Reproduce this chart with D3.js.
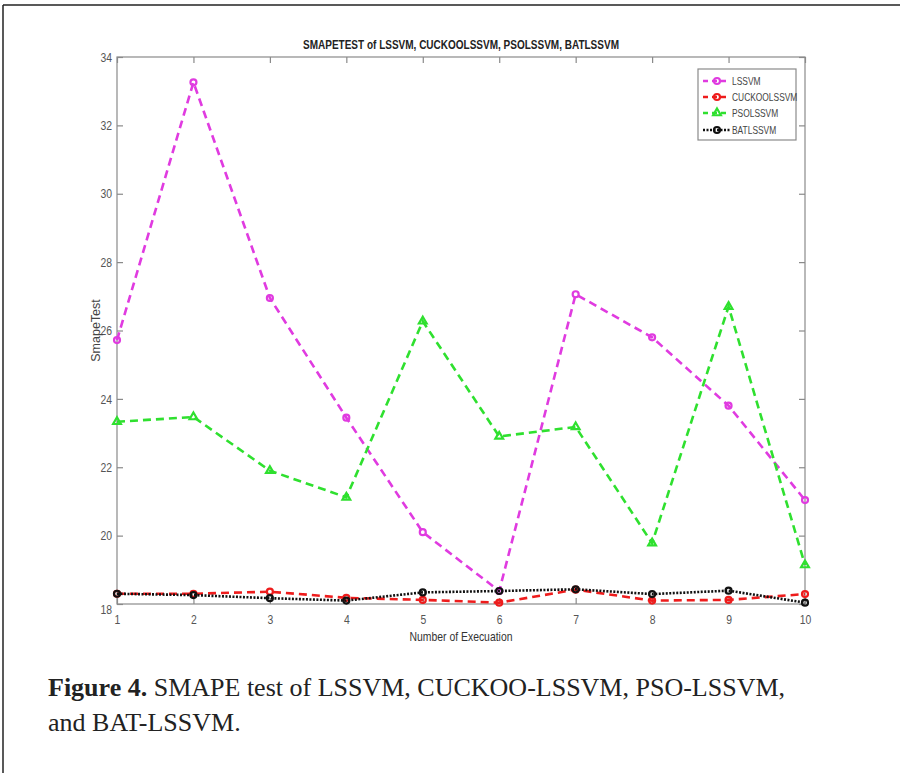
<!DOCTYPE html>
<html lang="en">
<head>
  <meta charset="utf-8">
  <title>SMAPE test</title>
  <script src="https://d3js.org/d3.v7.min.js"></script>
  <style>
    body { margin: 0; background: #fff; }
    svg { display: block; }
    .narrow { font-family: "Liberation Sans Narrow", "Arial Narrow", "Liberation Sans", Arial, sans-serif; }
  </style>
</head>
<body>
<svg width="905" height="773"></svg>
<script>

// values
var runs = [1, 2, 3, 4, 5, 6, 7, 8, 9, 10];
var lssvm = [25.72, 33.26, 26.95, 23.45, 20.1, 18.38, 27.06, 25.8, 23.8, 21.04];
var cuckoo = [18.3, 18.3, 18.36, 18.18, 18.12, 18.04, 18.42, 18.1, 18.12, 18.29];
var pso = [23.33, 23.47, 21.9, 21.12, 26.27, 22.9, 23.18, 19.78, 26.7, 19.14];
var bat = [18.3, 18.26, 18.17, 18.1, 18.34, 18.38, 18.43, 18.29, 18.39, 18.04];
var seriesNames = ["LSSVM", "CUCKOOLSSVM", "PSOLSSVM", "BATLSSVM"];
var yTicks = [18, 20, 22, 24, 26, 28, 30, 32, 34];

var svg = d3.select("svg");

// page frame (top and left edge of the figure box)
svg.append("line").attr("x1", 3).attr("y1", 5).attr("x2", 900).attr("y2", 5)
    .attr("stroke", "#222").attr("stroke-width", 1.5);
svg.append("line").attr("x1", 3).attr("y1", 5).attr("x2", 3).attr("y2", 773)
    .attr("stroke", "#222").attr("stroke-width", 1.5);

var plotL = 117, plotR = 805, plotT = 57, plotB = 604;

var x = d3.scaleLinear().domain([1, 10]).range([plotL, plotR]);
var y = d3.scaleLinear().domain([18, 34]).range([plotB, plotT]);

var axisColor = "#8a8a8a", labelColor = "#555";

// box
svg.append("rect").attr("x", plotL).attr("y", plotT)
    .attr("width", plotR - plotL).attr("height", plotB - plotT)
    .attr("fill", "none").attr("stroke", axisColor).attr("stroke-width", 1.2);

// inward ticks on all four sides
var tl = 6;
var xb = svg.append("g").attr("transform", "translate(0," + plotB + ")")
    .call(d3.axisBottom(x).tickValues(runs).tickSizeInner(-tl).tickSizeOuter(0).tickPadding(11).tickFormat(d3.format("d")));
var xt = svg.append("g").attr("transform", "translate(0," + plotT + ")")
    .call(d3.axisTop(x).tickValues(runs).tickSizeInner(-tl).tickSizeOuter(0).tickFormat(""));
var yl = svg.append("g").attr("transform", "translate(" + plotL + ",0)")
    .call(d3.axisLeft(y).tickValues(yTicks).tickSizeInner(-tl).tickSizeOuter(0).tickPadding(5).tickFormat(d3.format("d")));
var yr = svg.append("g").attr("transform", "translate(" + plotR + ",0)")
    .call(d3.axisRight(y).tickValues(yTicks).tickSizeInner(-tl).tickSizeOuter(0).tickFormat(""));

[xb, xt, yl, yr].forEach(function(g) {
  g.select(".domain").remove();
  g.selectAll(".tick line").attr("stroke", axisColor).attr("stroke-width", 1.2);
  g.selectAll(".tick text").attr("class", "narrow").attr("fill", labelColor)
      .attr("font-size", 13);
});
// matlab puts the lowest y label a bit below the axis line
yl.selectAll(".tick text").filter(function(d) { return d == 18; }).attr("dy", "0.75em");

// title and axis labels
svg.append("text").attr("class", "narrow").attr("x", (plotL + plotR) / 2).attr("y", 49)
    .attr("text-anchor", "middle").attr("font-weight", "bold").attr("font-size", 12.5)
    .attr("fill", "#222")
    .text("SMAPETEST of LSSVM, CUCKOOLSSVM, PSOLSSVM, BATLSSVM");

svg.append("text").attr("class", "narrow").attr("x", (plotL + plotR) / 2).attr("y", 641)
    .attr("text-anchor", "middle").attr("font-size", 13).attr("fill", "#333")
    .text("Number of Execuation");

svg.append("text")
    .attr("transform", "translate(100," + (plotT + plotB) / 2 + ") rotate(-90)")
    .attr("text-anchor", "middle").attr("font-family", "Liberation Sans, Arial, sans-serif")
    .attr("font-size", 12.5).attr("fill", "#444")
    .text("SmapeTest");

// series
var series = [
  { name: seriesNames[0], values: lssvm, color: "#e03be0", dash: "8,5", marker: "circle" },
  { name: seriesNames[1], values: cuckoo, color: "#ee1c1c", dash: "8,5", marker: "circle" },
  { name: seriesNames[2], values: pso, color: "#2fe02f", dash: "8,5", marker: "triangle" },
  { name: seriesNames[3], values: bat, color: "#111", dash: "2,1.5", marker: "circle" }
];

var line = d3.line()
    .x(function(d, i) { return x(runs[i]); })
    .y(function(d) { return y(d); });

function drawMarker(g, type, cx, cy, color) {
  if (type == "circle") {
    g.append("circle").attr("cx", cx).attr("cy", cy).attr("r", 3)
        .attr("fill", "none").attr("stroke", color).attr("stroke-width", 2.2);
  } else {
    g.append("path").attr("d", d3.symbol().type(d3.symbolTriangle).size(26)())
        .attr("transform", "translate(" + cx + "," + cy + ")")
        .attr("fill", "none").attr("stroke", color).attr("stroke-width", 2.2);
  }
}

series.forEach(function(s) {
  var g = svg.append("g");
  g.append("path").datum(s.values).attr("d", line)
      .attr("fill", "none").attr("stroke", s.color).attr("stroke-width", 2.6)
      .attr("stroke-dasharray", s.dash);
  s.values.forEach(function(v, i) { drawMarker(g, s.marker, x(runs[i]), y(v), s.color); });
});

// legend
var lg = svg.append("g");
lg.append("rect").attr("x", 698).attr("y", 69).attr("width", 98).attr("height", 71)
    .attr("fill", "#fff").attr("stroke", axisColor).attr("stroke-width", 1.2);
var rowY = [81, 97, 113, 130];
series.forEach(function(s, i) {
  lg.append("line").attr("x1", 703).attr("x2", 730).attr("y1", rowY[i]).attr("y2", rowY[i])
      .attr("stroke", s.color).attr("stroke-width", 2.6)
      .attr("stroke-dasharray", s.dash == "8,5" ? "5,4" : s.dash);
  drawMarker(lg, s.marker, 717, rowY[i], s.color);
  lg.append("text").attr("class", "narrow").attr("x", 732).attr("y", rowY[i] + 4)
      .attr("font-size", 10.5).attr("fill", "#444").text(s.name);
});

// squeeze the sans texts so they look like the condensed matlab font
svg.selectAll("text.narrow").each(function() {
  var w = this.getComputedTextLength();
  if (w > 0) d3.select(this).attr("textLength", w * 0.8).attr("lengthAdjust", "spacingAndGlyphs");
});

// caption
var cap = svg.append("text").attr("font-family", "Liberation Serif, Times New Roman, serif")
    .attr("font-size", 26).attr("fill", "#222");
cap.append("tspan").attr("x", 48).attr("y", 696).attr("font-weight", "bold").text("Figure 4.");
cap.append("tspan").text(" SMAPE test of LSSVM, CUCKOO-LSSVM, PSO-LSSVM,");
cap.append("tspan").attr("x", 48).attr("y", 731).text("and BAT-LSSVM.");

</script>
</body>
</html>
